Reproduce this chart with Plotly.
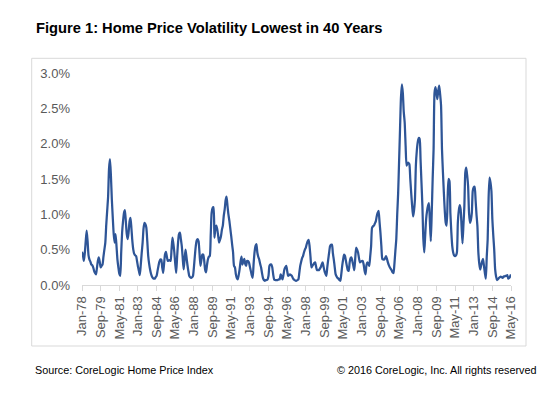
import plotly.graph_objects as go

# Monthly home price volatility (%), Jan-78 .. May-16
volatility = [
    0.47, 0.42, 0.34, 0.45, 0.62, 0.77, 0.62, 0.42, 0.36, 0.33, 0.29, 0.28,   # 1978
    0.25, 0.20, 0.17, 0.15, 0.24, 0.34, 0.39, 0.33, 0.25, 0.27, 0.29, 0.40,   # 1979
    0.50, 0.60, 0.85, 1.05, 1.25, 1.65, 1.78, 1.55, 1.21, 0.95, 0.72, 0.60,   # 1980
    0.72, 0.55, 0.36, 0.25, 0.16, 0.13, 0.45, 0.74, 0.90, 1.02, 1.06, 0.90,   # 1981
    0.72, 0.65, 0.75, 0.90, 0.95, 0.80, 0.62, 0.50, 0.44, 0.42, 0.41, 0.34,   # 1982
    0.26, 0.20, 0.14, 0.28, 0.45, 0.60, 0.80, 0.88, 0.86, 0.81, 0.62, 0.41,   # 1983
    0.30, 0.22, 0.16, 0.12, 0.10, 0.09, 0.09, 0.11, 0.13, 0.20, 0.27, 0.33,   # 1984
    0.36, 0.36, 0.25, 0.17, 0.30, 0.43, 0.47, 0.40, 0.34, 0.35, 0.35, 0.34,   # 1985
    0.50, 0.67, 0.58, 0.46, 0.30, 0.17, 0.40, 0.60, 0.72, 0.74, 0.65, 0.55,   # 1986
    0.38, 0.22, 0.36, 0.50, 0.40, 0.29, 0.20, 0.13, 0.11, 0.10, 0.11, 0.13,   # 1987
    0.25, 0.41, 0.55, 0.63, 0.65, 0.62, 0.45, 0.27, 0.35, 0.43, 0.43, 0.35,   # 1988
    0.22, 0.18, 0.28, 0.36, 0.40, 0.41, 0.70, 1.02, 1.09, 1.10, 0.67, 0.80,   # 1989
    0.84, 0.79, 0.70, 0.60, 0.64, 0.69, 0.78, 0.84, 0.98, 1.07, 1.20, 1.25,   # 1990
    1.12, 1.00, 0.91, 0.80, 0.69, 0.57, 0.46, 0.27, 0.25, 0.15, 0.10, 0.08,   # 1991
    0.14, 0.22, 0.33, 0.40, 0.29, 0.33, 0.37, 0.30, 0.27, 0.34, 0.34, 0.32,   # 1992
    0.26, 0.20, 0.14, 0.10, 0.30, 0.46, 0.55, 0.58, 0.46, 0.40, 0.36, 0.30,   # 1993
    0.25, 0.17, 0.10, 0.07, 0.06, 0.07, 0.07, 0.08, 0.13, 0.27, 0.29, 0.29,   # 1994
    0.25, 0.15, 0.08, 0.07, 0.07, 0.07, 0.07, 0.08, 0.08, 0.15, 0.12, 0.08,   # 1995
    0.14, 0.22, 0.25, 0.27, 0.20, 0.13, 0.14, 0.15, 0.14, 0.13, 0.10, 0.08,   # 1996
    0.07, 0.06, 0.06, 0.07, 0.08, 0.17, 0.27, 0.33, 0.38, 0.41, 0.46, 0.50,   # 1997
    0.53, 0.58, 0.62, 0.64, 0.55, 0.40, 0.25, 0.27, 0.29, 0.31, 0.32, 0.26,   # 1998
    0.21, 0.21, 0.21, 0.23, 0.25, 0.29, 0.32, 0.26, 0.20, 0.16, 0.13, 0.25,   # 1999
    0.36, 0.46, 0.55, 0.57, 0.57, 0.45, 0.36, 0.25, 0.15, 0.12, 0.10, 0.09,   # 2000
    0.07, 0.06, 0.15, 0.27, 0.36, 0.43, 0.41, 0.34, 0.27, 0.21, 0.20, 0.32,   # 2001
    0.38, 0.39, 0.33, 0.27, 0.21, 0.38, 0.53, 0.50, 0.46, 0.38, 0.32, 0.33,   # 2002
    0.34, 0.34, 0.29, 0.20, 0.15, 0.28, 0.32, 0.30, 0.27, 0.40, 0.55, 0.81,   # 2003
    0.83, 0.84, 0.87, 0.90, 0.97, 1.02, 1.05, 0.90, 0.74, 0.55, 0.37, 0.36,   # 2004
    0.36, 0.38, 0.41, 0.37, 0.32, 0.28, 0.25, 0.23, 0.21, 0.18, 0.17, 0.30,   # 2005
    0.48, 0.65, 1.00, 1.30, 1.75, 2.20, 2.65, 2.84, 2.72, 2.45, 2.30, 1.97,   # 2006
    1.69, 1.72, 1.73, 1.71, 1.50, 1.30, 1.12, 0.97, 1.05, 1.21, 1.69, 1.90,   # 2007
    2.02, 2.08, 2.07, 1.78, 1.45, 1.12, 0.65, 0.46, 0.70, 0.93, 1.05, 1.12,   # 2008
    1.16, 0.90, 0.62, 1.02, 1.50, 1.92, 2.72, 2.80, 2.72, 2.63, 2.75, 2.82,   # 2009
    2.70, 2.54, 1.92, 1.60, 1.31, 1.05, 0.88, 0.84, 1.20, 1.50, 1.47, 1.02,   # 2010
    0.75, 0.55, 0.46, 0.42, 0.41, 0.42, 0.46, 0.88, 1.05, 1.13, 1.07, 0.83,   # 2011
    0.59, 0.85, 1.12, 1.59, 1.66, 1.55, 1.40, 1.02, 0.88, 0.92, 1.02, 1.33,   # 2012
    1.38, 1.39, 1.21, 1.00, 0.83, 0.46, 0.30, 0.22, 0.28, 0.33, 0.37, 0.27,   # 2013
    0.17, 0.09, 0.40, 0.65, 1.24, 1.52, 1.45, 1.33, 0.93, 0.70, 0.50, 0.22,   # 2014
    0.12, 0.07, 0.08, 0.10, 0.11, 0.12, 0.11, 0.10, 0.12, 0.12, 0.13, 0.13,   # 2015
    0.14, 0.09, 0.10, 0.12, 0.15,                                             # 2016
]
months = list(range(len(volatility)))

tick_months = list(range(0, 461, 20))
tick_labels = ["Jan-78", "Sep-79", "May-81", "Jan-83", "Sep-84", "May-86", "Jan-88",
               "Sep-89", "May-91", "Jan-93", "Sep-94", "May-96", "Jan-98", "Sep-99",
               "May-01", "Jan-03", "Sep-04", "May-06", "Jan-08", "Sep-09", "May-11",
               "Jan-13", "Sep-14", "May-16"]
y_ticks = [0, 0.5, 1.0, 1.5, 2.0, 2.5, 3.0]
y_labels = ["0.0%", "0.5%", "1.0%", "1.5%", "2.0%", "2.5%", "3.0%"]

WIN_W, WIN_H = 557, 396
OFF = 8                      # default page body margin
W, H = WIN_W - OFF, WIN_H - OFF
# plot area in window pixels
L, R, T, B = 82, 511, 73, 285
FONT = "Arial, 'Liberation Sans', sans-serif"


def px_x(x):
    return (x - L) / (R - L)


def px_y(y):
    return (B - y) / (B - T)


fig = go.Figure()
fig.add_trace(go.Scatter(
    x=months, y=volatility, mode="lines",
    line=dict(color="#2E5597", width=2.25, shape="spline", smoothing=0.6),
    hoverinfo="skip", showlegend=False,
))

fig.update_layout(
    width=W, height=H,
    margin=dict(l=L - OFF, r=WIN_W - R, t=T - OFF, b=WIN_H - B, pad=0),
    paper_bgcolor="white", plot_bgcolor="white",
    font=dict(family=FONT, color="#595959", size=13),
    showlegend=False,
    xaxis=dict(
        range=[0, 460], tickmode="array", tickvals=tick_months, ticktext=tick_labels,
        tickangle=-90, ticks="outside", ticklen=5, tickcolor="#D9D9D9", tickwidth=1,
        showline=True, linecolor="#D9D9D9", linewidth=1, showgrid=False, zeroline=False,
        tickfont=dict(family=FONT, size=13, color="#595959"),
    ),
    yaxis=dict(
        range=[0, 3.0], tickmode="array", tickvals=y_ticks, ticktext=y_labels,
        showline=False, showgrid=False, zeroline=False, ticks="",
        ticklabelstandoff=11,
        tickfont=dict(family=FONT, size=13, color="#595959"),
    ),
    shapes=[dict(
        type="rect", xref="paper", yref="paper",
        x0=px_x(31.7), x1=px_x(526), y0=px_y(346), y1=px_y(58.3),
        line=dict(color="#D9D9D9", width=1), fillcolor="rgba(0,0,0,0)", layer="below",
    )],
    annotations=[
        dict(text="<b>Figure 1: Home Price Volatility Lowest in 40 Years</b>",
             xref="paper", yref="paper", x=px_x(34), y=px_y(28.5),
             xanchor="left", yanchor="middle", showarrow=False,
             font=dict(family=FONT, size=14.7, color="#000000")),
        dict(text="Source: CoreLogic Home Price Index", xref="paper", yref="paper",
             x=px_x(32.5), y=px_y(369.5), xanchor="left", yanchor="middle", showarrow=False,
             font=dict(family=FONT, size=10.8, color="#000000")),
        dict(text="© 2016 CoreLogic, Inc. All rights reserved", xref="paper", yref="paper",
             x=px_x(537.5), y=px_y(369.5), xanchor="right", yanchor="middle", showarrow=False,
             font=dict(family=FONT, size=10.8, color="#000000")),
    ],
)

fig.write_html("out.html")
